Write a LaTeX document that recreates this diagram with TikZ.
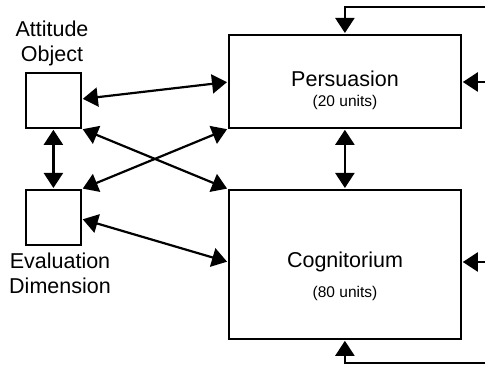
\documentclass[tikz,border=0pt]{standalone}
\usepackage{fontspec}
\setmainfont{Liberation Sans}
\usetikzlibrary{arrows.meta}
\begin{document}
\begin{tikzpicture}[x=1pt,y=-1pt,
  box/.style={draw,line width=1.8pt,inner sep=0pt,anchor=north west},
  conn/.style={line width=2.2pt,{Triangle[length=15pt,width=19pt]}-{Triangle[length=15pt,width=19pt]},shorten <=1pt,shorten >=1pt},
  feed/.style={line width=2.2pt,-{Triangle[length=15pt,width=19pt]},shorten >=1pt},
  big/.style={font=\fontsize{21.5}{21.5}\selectfont,inner sep=0pt,anchor=base},
  small/.style={font=\fontsize{15.5}{15.5}\selectfont,inner sep=0pt,anchor=base}]
\useasboundingbox (0,0) rectangle (485,366);
\node[box,minimum width=55pt,minimum height=55pt] (att) at (25,72) {};
\node[box,minimum width=55pt,minimum height=55pt] (eva) at (25,189) {};
\node[box,minimum width=232pt,minimum height=93pt] (per) at (228,34) {};
\node[box,minimum width=232pt,minimum height=149pt] (cog) at (228,189) {};
\node[big] (t1) at (52,37) {Attitude};
\node[big] (t2) at (52,62) {Object};
\node[big] (t3) at (60,269) {Evaluation};
\node[big] (t4) at (60,294) {Dimension};
\node[big] (t5) at (345,87) {Persuasion};
\node[small] (t6) at (345,107) {(20 units)};
\node[big] (t7) at (345,268) {Cognitorium};
\node[small] (t8) at (345,298) {(80 units)};
% connectors
\draw[conn] (att.south) -- (eva.north);
\draw[conn] (per.south) -- (cog.north);
\draw[conn] ([yshift=-27pt]att.north east) -- ([yshift=-48pt]per.north west);
\draw[conn] (att.south east) -- (cog.north west);
\draw[conn] (eva.north east) -- (per.south west);
\draw[conn] ([yshift=-30pt]eva.north east) -- ([yshift=-73pt]cog.north west);
% feedback
\coordinate (r1) at (485,7);
\coordinate (r2) at (485,82);
\coordinate (r3) at (485,262);
\coordinate (r4) at (485,363);
\draw[feed] (r1) -| (per.north);
\draw[feed] (r2) -- (per.east |- r2);
\draw[feed] (r3) -- (cog.east |- r3);
\draw[feed] (r4) -| (cog.south);
\end{tikzpicture}
\end{document}
